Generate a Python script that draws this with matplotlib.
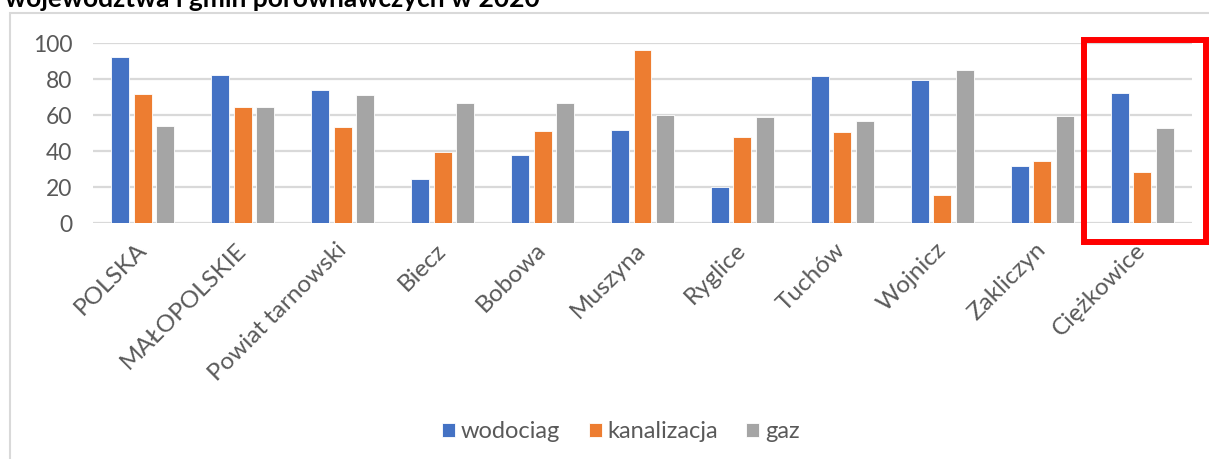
import matplotlib
matplotlib.use('Agg')
import matplotlib.pyplot as plt
from matplotlib.patches import Rectangle
import numpy as np

plt.rcParams['font.family'] = ['Lato', 'DejaVu Sans']

# dane (%)
gminy = ['POLSKA', 'MAŁOPOLSKIE', 'Powiat tarnowski', 'Biecz', 'Bobowa', 'Muszyna',
         'Ryglice', 'Tuchów', 'Wojnicz', 'Zakliczyn', 'Ciężkowice']
wodociag = [92.4, 82.5, 73.9, 24.6, 37.6, 51.7, 20.2, 81.5, 79.4, 31.9, 72.4]
kanalizacja = [71.7, 64.6, 53.1, 39.6, 50.9, 95.9, 47.6, 50.4, 15.4, 34.6, 28.1]
gaz = [53.9, 64.6, 70.9, 66.5, 66.5, 60.2, 58.9, 56.7, 85.2, 59.6, 52.6]
serie = ['wodociag', 'kanalizacja', 'gaz']
kolory = ['#4472C4', '#ED7D31', '#A5A5A5']
wyrozniona = 'Ciężkowice'

W, H = 1209, 459
fig = plt.figure(figsize=(W / 100, H / 100), dpi=100)
ax = fig.add_axes([93 / W, 1 - 223 / H, (1192 - 93) / W, 180 / H])

x = np.arange(len(gminy))
szer = 0.18
krok = 0.225
for i, (dane, nazwa) in enumerate(zip([wodociag, kanalizacja, gaz], serie)):
    ax.bar(x + (i - 1) * krok, dane, width=szer, color=kolory[i], label=nazwa,
           edgecolor='white', linewidth=0.6, zorder=3)

ax.set_xlim(-0.5, len(gminy) - 0.5)
ax.set_ylim(0, 100)
ax.set_yticks(range(0, 101, 20))
ax.yaxis.grid(True, color='#D9D9D9', linewidth=1.6, zorder=0)
for s in ax.spines.values():
    s.set_visible(False)
ax.tick_params(axis='y', length=0, pad=15, labelsize=16.5, labelcolor='#595959')
ax.tick_params(axis='x', length=0, pad=17, labelsize=17.5, labelcolor='#595959')
ax.set_xticks(x)
ax.set_xticklabels(gminy, rotation=45, ha='right', va='center', rotation_mode='anchor')

# czerwona ramka wokół wyróżnionej gminy
k = gminy.index(wyrozniona)
ax.add_patch(Rectangle((k - 0.585, -10.3), 1.23, 112, fill=False, edgecolor='#FF0000',
                       linewidth=4.3, clip_on=False, zorder=5))

# ramka obszaru wykresu (ucięta jak w oryginale)
fig.add_artist(Rectangle((10 / W, -0.1), 1.2, 1.1 - 13 / H, fill=False,
                         edgecolor='#D9D9D9', linewidth=1.5, transform=fig.transFigure))

# tytuł ucięty u góry, jak na zrzucie
fig.text(5 / W, 1 - 7 / H, 'województwa i gmin porównawczych w 2020', fontsize=19,
         fontweight='bold', color='black', va='baseline', ha='left')

fig.legend(loc='center', bbox_to_anchor=(621 / W, 1 - 432 / H), ncol=3, frameon=False,
           fontsize=17, labelcolor='#595959', handlelength=0.55, handleheight=0.55,
           handletextpad=0.25, columnspacing=1.2, borderaxespad=0)

fig.savefig('out.png', dpi=100)
